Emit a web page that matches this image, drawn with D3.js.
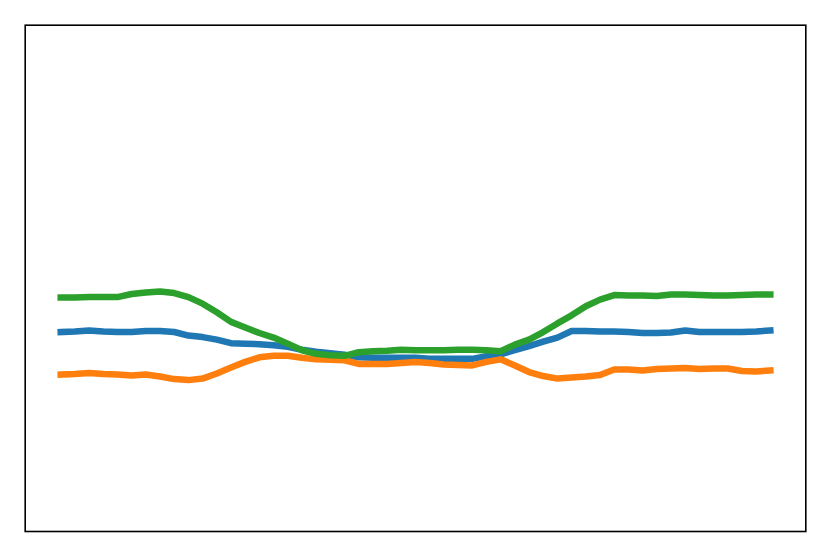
<!DOCTYPE html>
<html>
<head>
<meta charset="utf-8">
<script src="https://cdn.jsdelivr.net/npm/d3@7"></script>
<style>
  html, body { margin: 0; padding: 0; background: #fff; }
  svg { display: block; }
</style>
</head>
<body>
<div id="chart"></div>
<script>
// sample index along x
const steps = d3.range(51);

// three series
const blueValues = [
  39.4, 39.5, 39.7, 39.5, 39.4, 39.4, 39.6, 39.6, 39.4, 38.7,
  38.4, 37.9, 37.2, 37.1, 37.0, 36.8, 36.5, 35.9, 35.5, 35.2,
  34.9, 34.4, 34.3, 34.3, 34.3, 34.3, 34.1, 34.1, 34.1, 34.1,
  34.6, 35.0, 35.8, 36.6, 37.5, 38.3, 39.6, 39.6, 39.5, 39.5,
  39.4, 39.2, 39.2, 39.3, 39.7, 39.4, 39.4, 39.4, 39.4, 39.5,
  39.7
];
const orangeValues = [
  31.0, 31.1, 31.3, 31.1, 31.0, 30.8, 31.0, 30.6, 30.1, 29.9,
  30.2, 31.2, 32.4, 33.5, 34.4, 34.7, 34.7, 34.3, 34.0, 33.9,
  33.8, 33.1, 33.1, 33.1, 33.3, 33.5, 33.3, 33.0, 32.9, 32.8,
  33.5, 34.0, 32.8, 31.5, 30.7, 30.2, 30.4, 30.6, 30.9, 32.0,
  32.0, 31.8, 32.1, 32.2, 32.3, 32.1, 32.2, 32.2, 31.7, 31.6,
  31.8
];
const greenValues = [
  46.2, 46.2, 46.3, 46.3, 46.3, 46.9, 47.2, 47.4, 47.1, 46.3,
  45.0, 43.3, 41.4, 40.3, 39.2, 38.3, 37.1, 35.8, 35.1, 34.8,
  34.7, 35.4, 35.6, 35.7, 35.9, 35.8, 35.8, 35.8, 35.9, 35.9,
  35.8, 35.6, 36.9, 37.9, 39.4, 41.1, 42.7, 44.5, 45.8, 46.7,
  46.6, 46.6, 46.5, 46.8, 46.8, 46.7, 46.6, 46.6, 46.7, 46.8,
  46.8
];
const seriesColors = ['#1f77b4', '#ff7f0e', '#2ca02c'];

const width = 831, height = 557;
const m = { t: 25.2, r: 25.2, b: 25.5, l: 25.2 };
const w = width - m.l - m.r;
const h = height - m.t - m.b;

// 5% padding on x like the original
const pad = (steps.length - 1) * 0.05;
const x = d3.scaleLinear()
    .domain([steps[0] - pad, steps[steps.length - 1] + pad])
    .range([0, w]);
const y = d3.scaleLinear().domain([0, 100]).range([h, 0]);

const svg = d3.select('#chart')
    .append('svg')
    .attr('width', width)
    .attr('height', height)
  .append('g')
    .attr('transform', `translate(${m.l},${m.t})`);

const line = d3.line()
    .x((d, i) => x(steps[i]))
    .y(d => y(d));

[blueValues, orangeValues, greenValues].forEach((vals, i) => {
  svg.append('path')
      .datum(vals)
      .attr('fill', 'none')
      .attr('stroke', seriesColors[i])
      .attr('stroke-width', 6.5)
      .attr('stroke-linejoin', 'round')
      .attr('stroke-linecap', 'square')
      .attr('d', line);
});

// frame
svg.append('rect')
    .attr('x', 0)
    .attr('y', 0)
    .attr('width', w)
    .attr('height', h)
    .attr('fill', 'none')
    .attr('stroke', '#000')
    .attr('stroke-width', 1.6);
</script>
</body>
</html>
